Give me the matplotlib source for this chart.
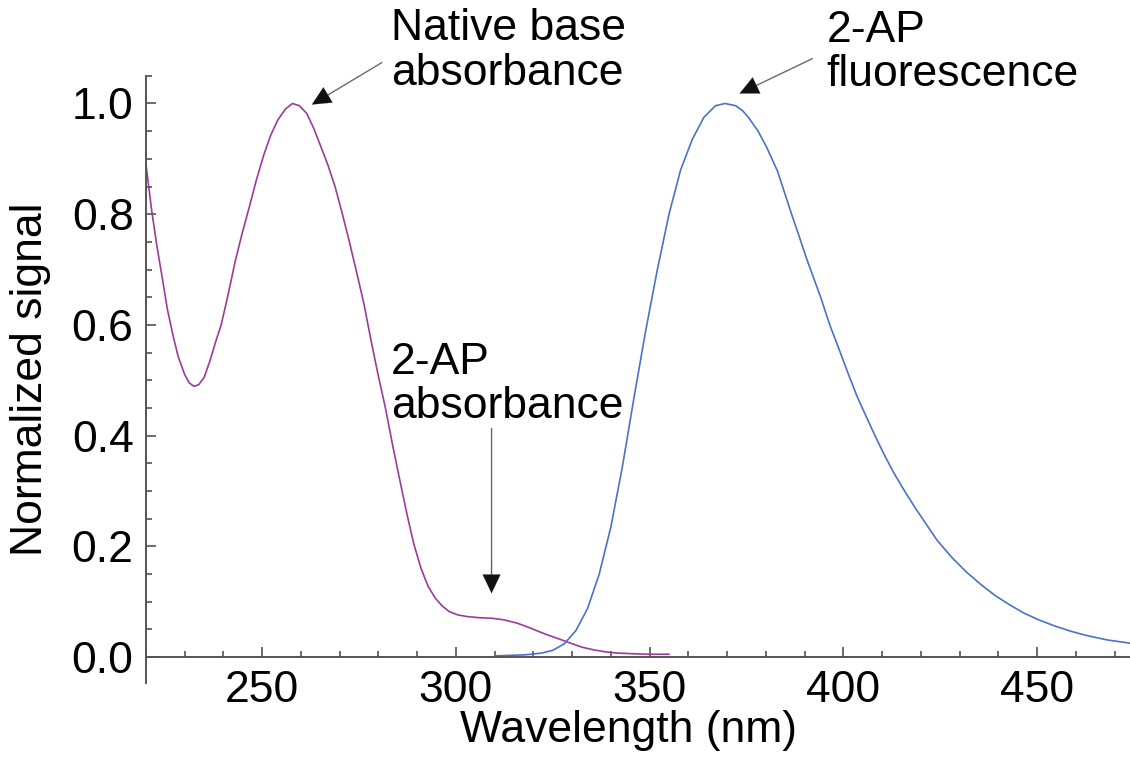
import matplotlib
matplotlib.use("Agg")
import matplotlib.pyplot as plt
from matplotlib.ticker import MultipleLocator, FormatStrFormatter

plt.rcParams['font.family'] = ['Liberation Sans', 'DejaVu Sans']

# native base absorbance (purple)
abs_nm = [220, 221.4, 222.8, 224.2, 225.5, 227.0, 228.3, 230.0, 231.2, 232.4, 233.6,
          235.0, 236.5, 238.0, 239.4, 241.2, 243.0, 244.8, 246.7, 248.5, 250.4,
          252.2, 254.0, 256.0, 257.8, 259.6, 261.5, 263.3, 265.2, 267.0, 268.8,
          270.7, 272.5, 274.3, 276.2, 278.0, 279.9, 281.8, 283.6, 285.5, 287.3,
          289.1, 291.0, 292.8, 294.7, 296.5, 298.3, 300.5, 303.0, 306.0, 309.4,
          312.5, 315.9, 318.6, 321.4, 324.0, 326.9, 329.6, 332.4, 335.5, 338.9,
          342.0, 345.3, 350.0, 355.0]
abs_val = [0.89, 0.81, 0.743, 0.685, 0.629, 0.580, 0.543, 0.510, 0.495, 0.489, 0.492,
           0.505, 0.535, 0.570, 0.600, 0.655, 0.714, 0.765, 0.814, 0.862, 0.907,
           0.943, 0.970, 0.990, 1.000, 0.996, 0.982, 0.955, 0.921, 0.888, 0.850,
           0.800, 0.750, 0.697, 0.640, 0.575, 0.510, 0.450, 0.385, 0.320, 0.260,
           0.205, 0.160, 0.128, 0.106, 0.092, 0.082, 0.076, 0.073, 0.071, 0.070,
           0.067, 0.061, 0.054, 0.046, 0.039, 0.032, 0.025, 0.018, 0.013, 0.009,
           0.007, 0.006, 0.005, 0.005]

# 2-AP fluorescence (blue)
fl_nm = [310.0, 314.0, 318.0, 322.0, 325.0, 328.0, 331.0, 334.0, 337.0, 340.0, 343.0,
         346.0, 349.0, 352.0, 355.0, 358.0, 361.0, 364.0, 367.0, 369.5, 372.2,
         374.0, 375.5, 378.0, 380.2, 383.0, 386.7, 388.6, 390.5, 394.2, 396.5,
         398.9, 401.2, 403.6, 406.0, 408.3, 410.6, 413.0, 415.8, 418.6, 421.4,
         424.2, 428.0, 431.7, 435.5, 439.2, 443.0, 446.7, 450.5, 454.2, 458.5,
         462.7, 468.0, 474.0]
fl_val = [0.002, 0.003, 0.004, 0.007, 0.012, 0.024, 0.048, 0.088, 0.150, 0.235, 0.345,
          0.470, 0.590, 0.700, 0.800, 0.880, 0.935, 0.975, 0.996, 1.000, 0.996,
          0.987, 0.975, 0.950, 0.921, 0.878, 0.799, 0.760, 0.720, 0.649, 0.600,
          0.556, 0.513, 0.470, 0.433, 0.398, 0.365, 0.333, 0.300, 0.269, 0.240,
          0.211, 0.180, 0.154, 0.131, 0.111, 0.094, 0.079, 0.067, 0.057, 0.047,
          0.039, 0.031, 0.025]

FS = 32
fig = plt.figure(figsize=(11.3, 7.59), dpi=100)
ax = fig.add_axes([146 / 1130, 0.1001, 984 / 1130, 0.8])

ax.plot(abs_nm, abs_val, color='#9a3c9a', lw=1.2)
ax.plot(fl_nm, fl_val, color='#4a72c8', lw=1.2)

ax.set_xlim(220, 474)
ax.set_ylim(-0.047, 1.05)

for s in ['top', 'right']:
    ax.spines[s].set_visible(False)
ax.spines['bottom'].set_position(('data', 0))
for s in ['left', 'bottom']:
    ax.spines[s].set_color('#555555')
    ax.spines[s].set_linewidth(1.4)

ax.xaxis.set_major_locator(MultipleLocator(50))
ax.xaxis.set_minor_locator(MultipleLocator(10))
ax.yaxis.set_major_locator(MultipleLocator(0.2))
ax.yaxis.set_minor_locator(MultipleLocator(0.05))
ax.yaxis.set_major_formatter(FormatStrFormatter('%.1f'))
ax.set_xticks([250, 300, 350, 400, 450])
ax.set_yticks([0.0, 0.2, 0.4, 0.6, 0.8, 1.0])

ax.tick_params(which='both', direction='in', color='#444444', width=1.1,
               labelsize=FS, pad=9)
ax.tick_params(which='major', length=7)
ax.tick_params(which='minor', length=4.3)

ax.set_xlabel('Wavelength (nm)', fontsize=FS)
ax.set_ylabel('Normalized signal', fontsize=FS)
ax.xaxis.set_label_coords(0.49, -0.045)
ax.yaxis.set_label_coords(-0.097, 0.5)

# labels (y is the baseline of the second line)
ax.text(283.3, 1.034, 'Native base\nabsorbance', fontsize=FS, ha='left',
        va='baseline', linespacing=1.1)
ax.text(395.6, 1.031, '2-AP\nfluorescence', fontsize=FS, ha='left',
        va='baseline', linespacing=1.1)
ax.text(283.3, 0.432, '2-AP\nabsorbance', fontsize=FS, ha='left',
        va='baseline', linespacing=1.1)


def pointer(tip, tail):
    # grey shaft with a solid black head
    ax.annotate('', xy=tip, xytext=tail, annotation_clip=False,
                arrowprops=dict(arrowstyle='-', color='#6a6a6a', lw=1.0,
                                shrinkA=0, shrinkB=4))
    mid = (tip[0] + 0.2 * (tail[0] - tip[0]), tip[1] + 0.2 * (tail[1] - tip[1]))
    ax.annotate('', xy=tip, xytext=mid, annotation_clip=False,
                arrowprops=dict(arrowstyle='-|>,head_length=0.42,head_width=0.2',
                                color='#111111', lw=0.1, mutation_scale=32,
                                shrinkA=0, shrinkB=0))


pointer((262.8, 0.998), (280.9, 1.074))
pointer((373.2, 1.018), (392.0, 1.081))
pointer((309.2, 0.115), (309.2, 0.413))

fig.savefig('out.png', dpi=100)
